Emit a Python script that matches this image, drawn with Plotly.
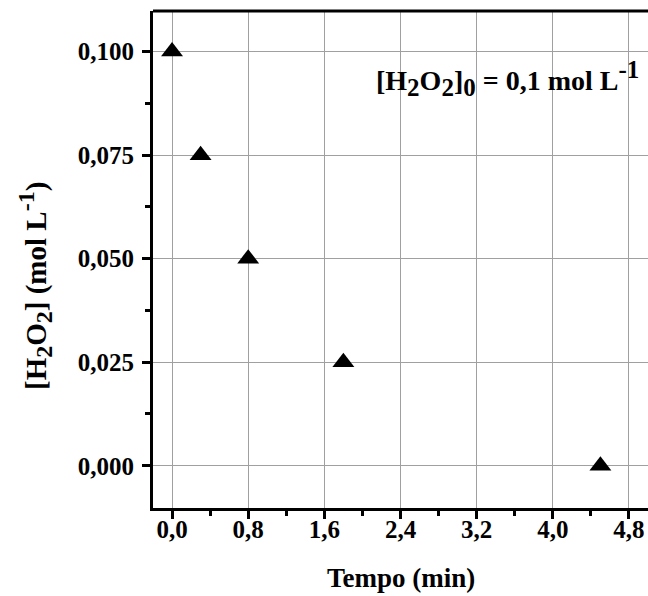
import plotly.graph_objects as go

tempo = [0.0, 0.3, 0.8, 1.8, 4.5]
h2o2 = [0.100, 0.075, 0.050, 0.025, 0.000]

x_tickvals = [0.0, 0.8, 1.6, 2.4, 3.2, 4.0, 4.8]
x_ticktext = ["0,0", "0,8", "1,6", "2,4", "3,2", "4,0", "4,8"]
y_tickvals = [0.000, 0.025, 0.050, 0.075, 0.100]
y_ticktext = ["0,000", "0,025", "0,050", "0,075", "0,100"]

FONT = "Liberation Serif"
L, R, T, B = 153, 0, 11, 88
W, H = 648, 596
PW, PH = W - L - R, H - T - B


def px_x(px):
    return (px - L) / PW


def px_y(py):
    return (H - B - py) / PH


def sub(s, size):
    return f"<sub><span style='font-size:{size}px'>{s}</span></sub>"


def sup(s, size):
    return f"<sup><span style='font-size:{size}px'>{s}</span></sup>"


fig = go.Figure()
fig.add_trace(go.Scatter(
    x=tempo, y=h2o2, mode="markers",
    marker=dict(symbol="triangle-up", size=19, color="black"),
    showlegend=False,
))

fig.update_layout(
    width=W, height=H,
    margin=dict(l=L, r=R, t=T, b=B),
    plot_bgcolor="white", paper_bgcolor="white",
    font=dict(family=FONT, color="black"),
)

fig.update_xaxes(
    range=[-0.2, 5.0],
    tickvals=x_tickvals, ticktext=x_ticktext,
    tickfont=dict(family=FONT, size=25, weight="bold"),
    ticklabelstandoff=-11,
    showline=True, linewidth=3, linecolor="black",
    ticks="outside", ticklen=8, tickwidth=3, tickcolor="black",
    minor=dict(dtick=0.4, tick0=0, ticks="outside", ticklen=5, tickwidth=3, tickcolor="black", showgrid=False),
    showgrid=True, gridcolor="#a0a0a0", gridwidth=1,
    zeroline=False,
)
fig.update_yaxes(
    range=[-0.0102, 0.1098],
    tickvals=y_tickvals, ticktext=y_ticktext,
    tickfont=dict(family=FONT, size=25, weight="bold"),
    ticklabelstandoff=3,
    showline=True, linewidth=3, linecolor="black",
    ticks="outside", ticklen=8, tickwidth=3, tickcolor="black",
    minor=dict(dtick=0.0125, tick0=0, ticks="outside", ticklen=5, tickwidth=3, tickcolor="black", showgrid=False),
    showgrid=True, gridcolor="#a0a0a0", gridwidth=1,
    zeroline=False,
)

# top border line
fig.add_shape(type="line", xref="paper", yref="paper", x0=0, x1=1, y0=1, y1=1,
              line=dict(color="black", width=3))

# x-axis title
fig.add_annotation(
    xref="paper", yref="paper", x=px_x(401), y=px_y(578), xanchor="center", yanchor="middle",
    text="<b>Tempo (min)</b>", showarrow=False,
    font=dict(family=FONT, size=27, color="black"),
)

# y-axis title
fig.add_annotation(
    xref="paper", yref="paper", x=px_x(35), y=px_y(286), xanchor="center", yanchor="middle",
    textangle=-90,
    text="<b>[H" + sub("2", 24) + "O" + sub("2", 24) + "] (mol L" + sup("-1", 24) + ")</b>",
    showarrow=False, font=dict(family=FONT, size=29, color="black"),
)

# annotation
fig.add_annotation(
    xref="paper", yref="paper", x=px_x(641), y=px_y(78), xanchor="right", yanchor="middle",
    text="<b>[H" + sub("2", 25) + "O" + sub("2", 25) + "]" + sub("0", 25) + " = 0,1 mol L" + sup("-1", 25) + "</b>",
    showarrow=False, font=dict(family=FONT, size=28, color="black"),
)

fig.write_html("out.html", config={"displayModeBar": False},
               post_script="document.body.style.margin='0';")
